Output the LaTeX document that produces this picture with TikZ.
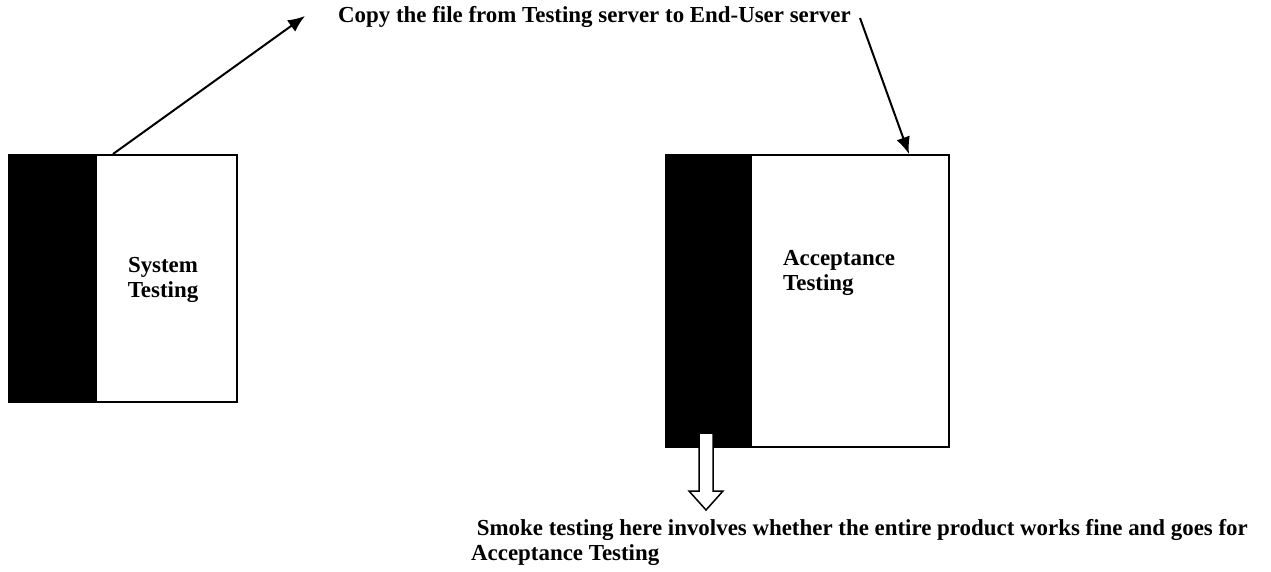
\documentclass[tikz,border=0pt]{standalone}
\usepackage{fontspec}
\setmainfont{Liberation Serif}
\usetikzlibrary{arrows.meta}
\tikzset{
  lbl/.style={font=\fontsize{22.9}{25}\selectfont\bfseries, inner sep=0pt},
  boxframe/.style={draw, line width=2pt, fill=white, inner sep=0pt},
  conn/.style={line width=2pt, -{Latex[length=17pt,width=14pt]}},
}
\begin{document}
\begin{tikzpicture}[x=1pt,y=-1pt]
\useasboundingbox (0,0) rectangle (1271,571);
% System Testing box
\node[boxframe, minimum width=228pt, minimum height=247pt, anchor=north west] (sys) at (8,154) {};
\fill (sys.north west) rectangle (97,401);
\node[lbl, align=center, anchor=north] (systxt) at (163,257) {System\\Testing};
% Acceptance Testing box
\node[boxframe, minimum width=283pt, minimum height=292pt, anchor=north west] (acc) at (665,154) {};
\fill (acc.north west) rectangle (752,446);
\node[lbl, align=left, anchor=north west] (acctxt) at (783,250) {Acceptance\\Testing};
% top label
\node[lbl, anchor=base west] (copy) at (338,22) {Copy the file from Testing server to End-User server};
\coordinate (s1) at (113,154);
\coordinate (t1) at (305,16);
\draw[conn] (s1) -- (t1);
\coordinate (s2) at (860,18);
\coordinate (t2) at (909,154);
\draw[conn] (s2) -- (t2);
% hollow arrow
\draw[line width=1.5pt, fill=white] (699,433) -- (713,433) -- (713,491) -- (723,491) -- (706,510) -- (689,491) -- (699,491) -- cycle;
\coordinate (harrow) at (706,510);
\node[lbl, align=left, anchor=north west] (smoke) at (471,519.5) {\ Smoke testing here involves whether the entire product works fine and goes for\\Acceptance Testing};
\end{tikzpicture}
\end{document}
